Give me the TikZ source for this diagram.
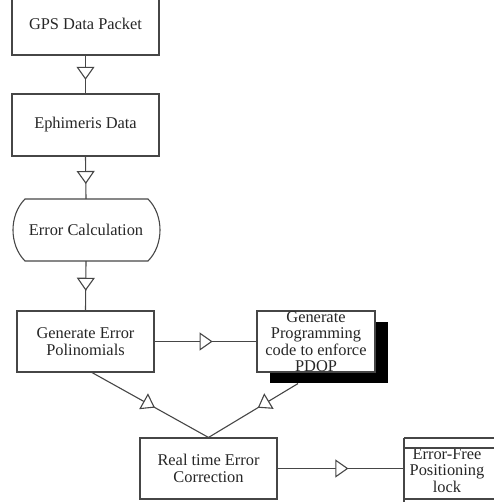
\documentclass[tikz,border=0pt]{standalone}
\usepackage{fontspec}
\setmainfont{Liberation Serif}
\usetikzlibrary{arrows.meta,decorations.markings,shadows,calc}
\definecolor{ln}{RGB}{70,70,70}
\begin{document}
\begin{tikzpicture}[x=1pt,y=-1pt,
  every node/.style={font=\fontsize{16.4}{16.5}\selectfont, text=black!85},
  box/.style={draw=ln, line width=1.1pt, minimum width=147pt, minimum height=62pt, inner xsep=2pt, inner ysep=0pt, align=center},
  flow/.style={draw=ln, line width=1.1pt,
    decoration={markings, mark=at position #1 with {\arrow[ln, line width=1.1pt]{Triangle[fill=white, length=13pt, width=18pt]}}},
    postaction={decorate}},
  shadowbox/.style={drop shadow={shadow xshift=13pt, shadow yshift=-11pt, opacity=1, fill=black}, fill=white}
]
\useasboundingbox (0,0) rectangle (493,502);

% nodes
\node[box] (gps) at (85.5,24) {GPS Data Packet};
\node[box] (eph) at (85.5,125) {Ephimeris Data};
\node[minimum width=148pt, minimum height=62pt, inner sep=0pt] (errc) at (86,230) {Error Calculation};
\draw[ln, line width=1.1pt] (25,199) -- (148,199) .. controls (164,215) and (164,245) .. (148,261)
  -- (25,261) .. controls (9,245) and (9,215) .. (25,199) -- cycle;
\node[box, minimum width=137pt, minimum height=61pt] (poly) at (85.5,341.5) {Generate Error\\Polinomials};
\node[box, shadowbox, minimum width=118pt, minimum height=61pt] (prog) at (316,341.5) {Generate\\Programming\\code to enforce\\PDOP};
\node[box, minimum width=137pt, minimum height=61pt] (real) at (208.5,468.5) {Real time Error\\Correction};
\node[align=center, inner sep=0pt] (errfree) at (447,470.5) {Error-Free\\Positioning\\lock};

% Error-Free box lines (cut by page edge)
\coordinate (efw) at (404,468.5);
\draw[ln, line width=1.1pt] (404,438) -- (404,510);
\draw[ln, line width=1.1pt] (404,438) -- (500,438);
\draw[ln, line width=1.1pt] (404,448) -- (500,448);
\draw[ln, line width=1.1pt] (404,499) -- (500,499);

% connectors
\path[flow=0.64] (gps.south) -- (eph.north);
\path[flow=0.65] (eph.south) -- (errc.north);
\path[flow=0.6] (errc.south) -- (poly.north);
\path[flow=0.57] (poly.east) -- (prog.west);
\path[flow=0.54] ([xshift=6.5pt]poly.south) -- (real.north);
\path[flow=0.45] ([shift={(-18,11)}]prog.south) -- (real.north);
\path[flow=0.56] (real.east) -- (efw);
\end{tikzpicture}
\end{document}
